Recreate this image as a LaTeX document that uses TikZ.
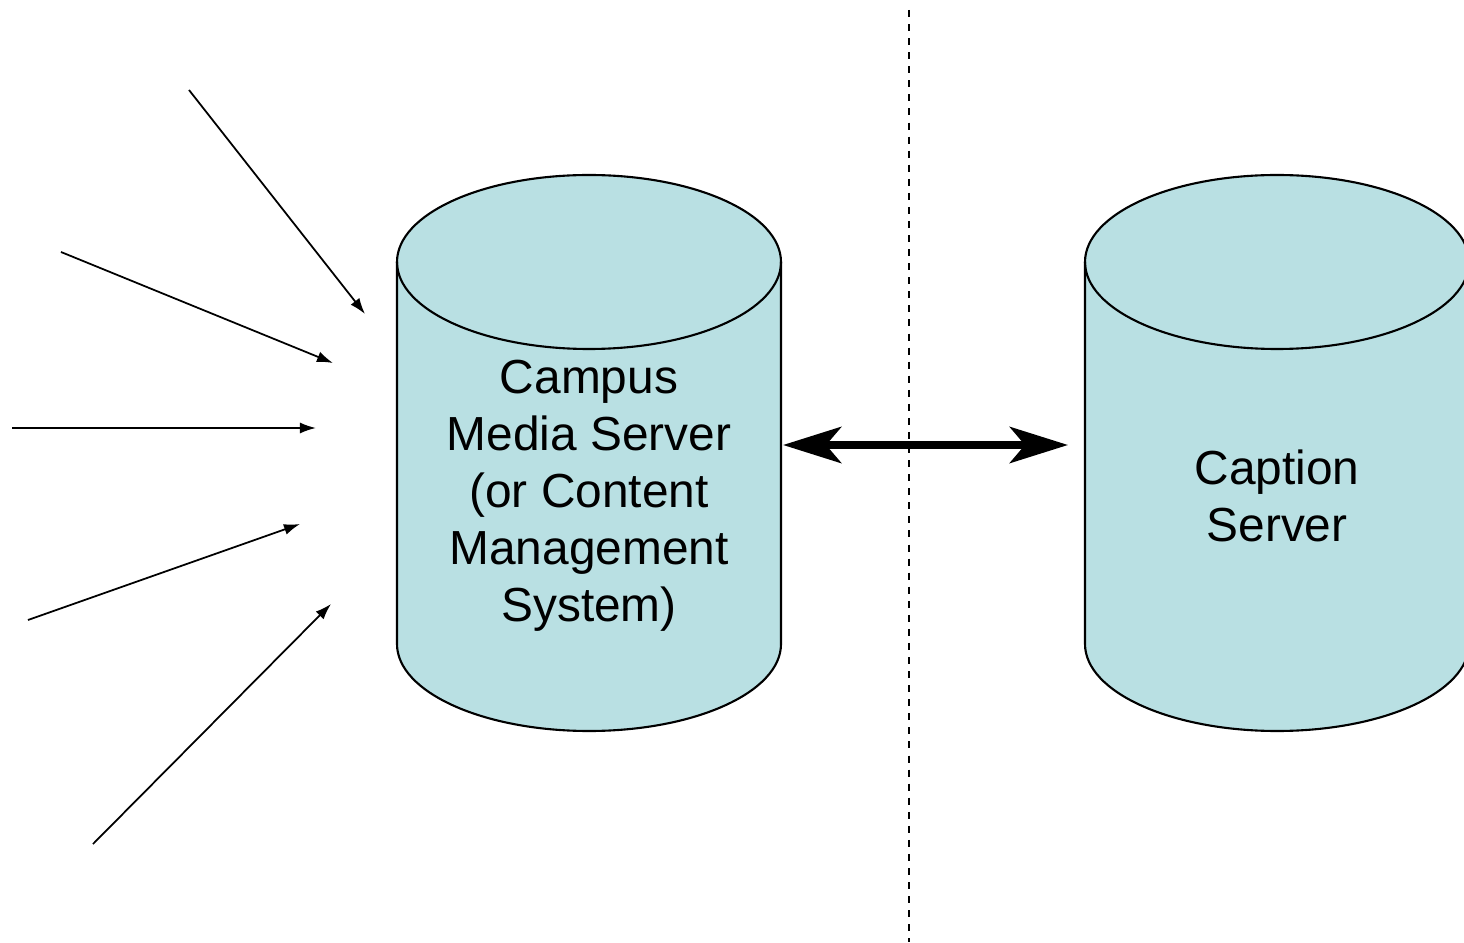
\documentclass[tikz,border=0pt]{standalone}
\usepackage{fontspec}
\setmainfont{Liberation Sans}
\usepackage{xcolor}
\usetikzlibrary{arrows.meta,positioning,calc}
\definecolor{dbfill}{RGB}{185,224,227}

\begin{document}
\begin{tikzpicture}[x=0.01cm, y=0.01cm, font=\fontsize{13.6}{16.2}\selectfont,
    db/.style={fill=dbfill, draw=black, line width=0.6pt},
    feed/.style={-{Latex[length=0.16cm,width=0.11cm]}, line width=0.5pt},
    link/.style={{Stealth[length=0.58cm,width=0.36cm,inset=0.15cm]}-{Stealth[length=0.58cm,width=0.36cm,inset=0.15cm]}, line width=2.3pt}]
  \useasboundingbox (0,0) rectangle (1464,942);
  \clip (0,0) rectangle (1464,942);
  % divider
  \draw[line width=0.6pt, dash pattern=on 2pt off 2pt] (909,932) -- (909,0);
  % campus media server
  \filldraw[db] (397,680) -- (397,298) arc[start angle=180, end angle=360, x radius=192, y radius=87]
    -- (781,680) arc[start angle=0, end angle=180, x radius=192, y radius=87] -- cycle;
  \draw[line width=0.6pt] (397,680) arc[start angle=180, end angle=360, x radius=192, y radius=87];
  \node[align=center] (media) at (589,446) {Campus\\Media Server\\(or Content\\Management\\System)};
  % caption server
  \filldraw[db] (1085,680) -- (1085,298) arc[start angle=180, end angle=360, x radius=192, y radius=87]
    -- (1469,680) arc[start angle=0, end angle=180, x radius=192, y radius=87] -- cycle;
  \draw[line width=0.6pt] (1085,680) arc[start angle=180, end angle=360, x radius=192, y radius=87];
  \node[align=center] (caption) at (1277,446) {Caption\\Server};
  % link between servers
  \coordinate (media-e) at (783,497);
  \coordinate (caption-w) at (1068,497);
  \draw[link] (media-e) -- (caption-w);
  % incoming feeds
  \coordinate (src1) at (189,852); \coordinate (in1) at (365,628);
  \coordinate (src2) at (61,690);  \coordinate (in2) at (333,579);
  \coordinate (src3) at (12,514);  \coordinate (in3) at (316,514);
  \coordinate (src4) at (28,322);  \coordinate (in4) at (300,418);
  \coordinate (src5) at (93,98);   \coordinate (in5) at (331,338);
  \foreach \i in {1,...,5}
    \draw[feed] (src\i) -- (in\i);
\end{tikzpicture}
\end{document}
